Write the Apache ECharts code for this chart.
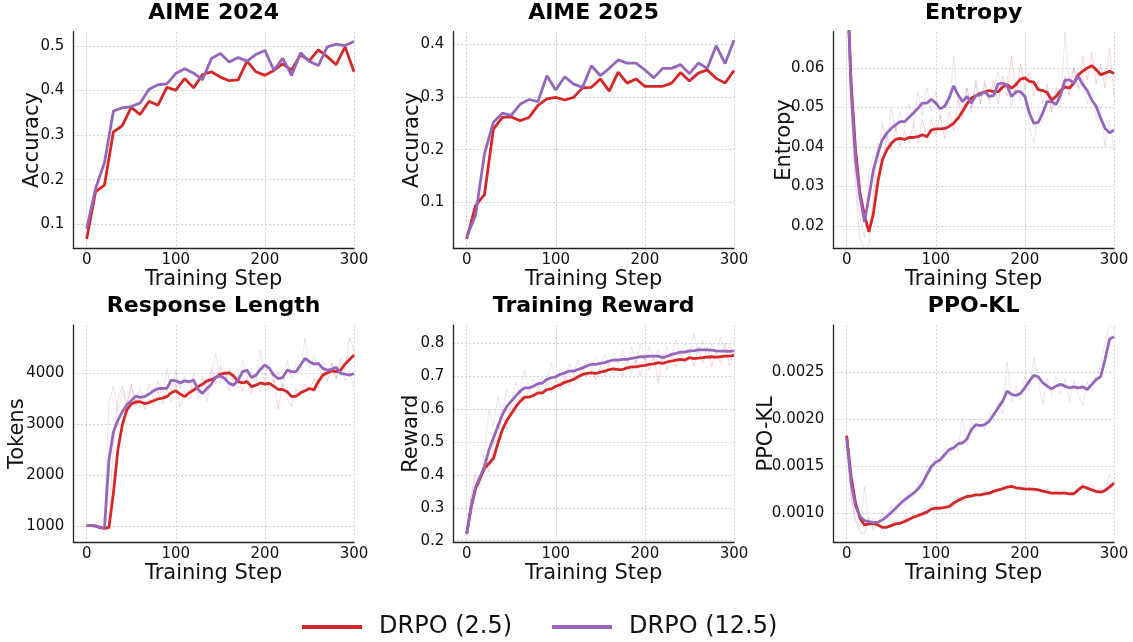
<!DOCTYPE html>
<html>
<head>
<meta charset="utf-8">
<script src="https://cdn.jsdelivr.net/npm/echarts@6/dist/echarts.min.js"></script>
<style>
  html, body { margin: 0; padding: 0; background: #fff; }
  #chart { width: 1133px; height: 642px; }
</style>
</head>
<body>
<div id="chart"></div>
<script>
// ---- data -------------------------------------------------------------
const STEPS_10 = [0,10,20,30,40,50,60,70,80,90,100,110,120,130,140,150,160,170,180,190,200,210,220,230,240,250,260,270,280,290,300];
const STEPS_5 = [0,5,10,15,20,25,30,35,40,45,50,55,60,65,70,75,80,85,90,95,100,105,110,115,120,125,130,135,140,145,150,155,160,165,170,175,180,185,190,195,200,205,210,215,220,225,230,235,240,245,250,255,260,265,270,275,280,285,290,295,300];
const X_TICKS = [0, 100, 200, 300];

const SERIES_NAMES = ['DRPO (2.5)', 'DRPO (12.5)'];

// AIME 2024 accuracy (every 10 steps)
const A24_RED = [0.067,0.173,0.188,0.307,0.321,0.362,0.346,0.376,0.367,0.407,0.401,0.427,0.406,0.436,0.442,0.430,0.422,0.424,0.466,0.442,0.434,0.445,0.460,0.446,0.480,0.467,0.491,0.476,0.458,0.498,0.442];
const A24_PUR = [0.090,0.180,0.238,0.354,0.361,0.364,0.372,0.403,0.413,0.415,0.438,0.449,0.439,0.424,0.472,0.483,0.464,0.474,0.466,0.481,0.490,0.446,0.472,0.434,0.485,0.465,0.456,0.498,0.504,0.501,0.510];
const A24_TICKS = [0.1, 0.2, 0.3, 0.4, 0.5];

// AIME 2025 accuracy (every 10 steps)
const A25_RED = [0.031,0.094,0.115,0.239,0.261,0.262,0.255,0.261,0.284,0.296,0.299,0.294,0.299,0.317,0.318,0.334,0.311,0.347,0.326,0.334,0.320,0.320,0.320,0.326,0.346,0.330,0.345,0.351,0.335,0.326,0.350];
const A25_PUR = [0.034,0.076,0.192,0.252,0.269,0.265,0.286,0.295,0.291,0.340,0.313,0.338,0.324,0.318,0.359,0.340,0.354,0.370,0.364,0.364,0.351,0.336,0.354,0.354,0.361,0.344,0.364,0.354,0.397,0.363,0.407];
const A25_TICKS = [0.1, 0.2, 0.3, 0.4];

// Entropy (every 5 steps): smoothed and raw
const ENT_RED = [0.085,0.0562,0.0392,0.0282,0.0227,0.0185,0.0231,0.0312,0.0367,0.0392,0.0409,
  0.0419,0.0422,0.0419,0.0424,0.0424,0.0426,0.0431,0.0426,0.0443,0.0446,
  0.0446,0.0447,0.0452,0.046,0.0473,0.049,0.0509,0.0524,0.053,0.0536,
  0.0539,0.0543,0.054,0.054,0.0552,0.0558,0.0549,0.0558,0.0572,0.0575,
  0.0566,0.0564,0.0545,0.0543,0.0538,0.0519,0.0528,0.0543,0.0552,0.0549,
  0.0562,0.0583,0.0592,0.060,0.0606,0.0596,0.0583,0.0587,0.0592,0.0586];
const ENT_PUR = [0.085,0.0545,0.0367,0.0274,0.021,0.0274,0.0342,0.0384,0.0418,0.0435,0.0447,
  0.0456,0.0464,0.0464,0.0475,0.0486,0.0498,0.0511,0.0511,0.0521,0.0511,
  0.0497,0.0503,0.0524,0.0555,0.0532,0.0515,0.0528,0.0511,0.053,0.0532,
  0.054,0.0528,0.053,0.056,0.0562,0.0555,0.0528,0.054,0.054,0.0528,
  0.0486,0.046,0.0462,0.0486,0.0515,0.0515,0.0507,0.0532,0.0569,0.057,
  0.0562,0.0579,0.0558,0.0543,0.0519,0.0503,0.0473,0.0447,0.0436,0.0443];
const ENT_RED_RAW = [0.090,0.048,0.030,0.017,0.014,0.015,0.028,0.041,0.035,0.043,0.039,
  0.045,0.040,0.044,0.041,0.046,0.041,0.047,0.042,0.047,0.043,
  0.048,0.042,0.049,0.044,0.052,0.047,0.055,0.050,0.057,0.051,
  0.056,0.052,0.057,0.051,0.058,0.053,0.063,0.053,0.061,0.055,
  0.059,0.053,0.057,0.051,0.056,0.049,0.055,0.052,0.058,0.053,
  0.060,0.055,0.063,0.057,0.064,0.056,0.061,0.055,0.065,0.053];
const ENT_PUR_RAW = [0.088,0.050,0.033,0.022,0.017,0.033,0.038,0.036,0.046,0.041,0.050,
  0.044,0.049,0.045,0.051,0.046,0.054,0.048,0.055,0.049,0.054,
  0.047,0.052,0.050,0.063,0.052,0.050,0.055,0.049,0.056,0.051,
  0.057,0.051,0.055,0.059,0.054,0.058,0.050,0.057,0.052,0.055,
  0.045,0.041,0.049,0.046,0.054,0.049,0.053,0.050,0.069,0.055,
  0.060,0.054,0.058,0.051,0.054,0.047,0.050,0.040,0.047,0.039];
const ENT_TICKS = [0.02, 0.03, 0.04, 0.05, 0.06];

// Response length in tokens (every 5 steps)
const LEN_RED = [1020,1013,1007,980,960,975,1650,2500,2990,3280,3400,
  3440,3445,3410,3430,3465,3500,3515,3545,3620,3660,
  3595,3545,3620,3675,3740,3790,3855,3880,3920,3985,
  4000,4010,3950,3840,3815,3840,3740,3770,3815,3790,
  3805,3750,3685,3685,3640,3545,3555,3620,3660,3705,
  3675,3840,3965,4015,4050,4035,4065,4185,4275,4360];
const LEN_PUR = [1020,1013,1005,970,965,2300,2850,3080,3250,3380,3465,
  3555,3530,3545,3595,3660,3700,3705,3710,3870,3855,
  3815,3855,3835,3870,3685,3610,3705,3790,3935,3950,
  3900,3805,3770,3870,4035,4065,3920,3965,4080,4165,
  4100,3965,3900,3920,4065,4035,4035,4165,4295,4230,
  4185,4195,4100,4065,4080,4120,4000,3985,3965,4000];
const LEN_RED_RAW = [1030,1000,1010,960,950,1000,2600,3500,3750,3400,3800,
  3350,3550,3300,3500,3350,3650,3400,3700,3450,3800,
  3350,3650,3500,3900,3600,3950,3700,4100,3800,4150,
  3850,4100,3800,3950,3650,3900,3600,3950,3650,3900,
  3700,3900,3300,3800,3500,3350,3700,3550,3800,3650,
  3900,3700,4100,3850,4200,3900,4300,4050,4700,4450];
const LEN_PUR_RAW = [1020,1010,990,960,1200,3400,3750,3250,3650,3350,3750,
  3450,3700,3400,3800,3500,3850,3550,4100,3650,4050,
  3700,3950,3600,4000,3500,3750,3450,4000,4400,3800,
  4050,3650,3950,3700,4250,3900,4100,3750,4450,3950,
  4200,3800,4050,3750,4250,3900,4200,4000,4700,4100,
  4350,4050,4250,3950,4200,3900,4150,3850,4050,3700];
const LEN_TICKS = [1000, 2000, 3000, 4000];

// Training reward (every 5 steps)
const REW_RED = [0.220,0.300,0.358,0.389,0.420,0.435,0.450,0.496,0.537,0.566,0.586,
  0.607,0.624,0.637,0.637,0.642,0.650,0.650,0.660,0.662,0.670,
  0.675,0.682,0.686,0.691,0.699,0.706,0.709,0.711,0.709,0.713,
  0.716,0.721,0.723,0.721,0.721,0.726,0.729,0.729,0.732,0.734,
  0.737,0.738,0.742,0.740,0.744,0.747,0.750,0.752,0.750,0.757,
  0.754,0.756,0.757,0.759,0.760,0.759,0.760,0.762,0.762,0.764];
const REW_PUR = [0.220,0.305,0.364,0.394,0.425,0.476,0.512,0.548,0.583,0.609,0.624,
  0.640,0.655,0.665,0.665,0.670,0.678,0.680,0.691,0.696,0.699,
  0.706,0.711,0.716,0.716,0.721,0.726,0.732,0.737,0.737,0.740,
  0.742,0.747,0.750,0.750,0.752,0.752,0.755,0.757,0.760,0.760,
  0.762,0.762,0.762,0.757,0.762,0.767,0.770,0.774,0.774,0.778,
  0.778,0.781,0.781,0.781,0.780,0.778,0.777,0.777,0.776,0.778];
const REW_RED_RAW = [0.22,0.33,0.40,0.37,0.45,0.41,0.49,0.52,0.58,0.54,0.61,
  0.59,0.65,0.62,0.66,0.63,0.67,0.64,0.68,0.65,0.69,
  0.66,0.70,0.67,0.71,0.69,0.73,0.70,0.72,0.69,0.73,
  0.70,0.74,0.71,0.73,0.70,0.75,0.71,0.75,0.70,0.76,
  0.72,0.76,0.68,0.77,0.72,0.77,0.73,0.78,0.74,0.78,
  0.73,0.79,0.74,0.79,0.73,0.78,0.74,0.80,0.73,0.78];
const REW_PUR_RAW = [0.22,0.34,0.41,0.38,0.48,0.60,0.55,0.64,0.59,0.66,0.62,
  0.68,0.65,0.72,0.66,0.69,0.67,0.70,0.68,0.74,0.69,
  0.72,0.70,0.74,0.71,0.75,0.72,0.75,0.73,0.76,0.73,
  0.77,0.74,0.77,0.74,0.78,0.75,0.79,0.74,0.80,0.75,
  0.79,0.75,0.78,0.74,0.79,0.76,0.81,0.76,0.80,0.77,
  0.83,0.77,0.81,0.76,0.80,0.77,0.82,0.76,0.80,0.77];
const REW_TICKS = [0.2, 0.3, 0.4, 0.5, 0.6, 0.7, 0.8];

// PPO-KL (every 5 steps)
const KL_RED = [0.001827,0.001392,0.001107,0.000947,0.000875,0.000886,0.000893,0.000875,0.00085,0.00085,0.000868,
  0.000886,0.000893,0.000911,0.000936,0.000957,0.000975,0.000993,0.001011,0.001043,0.001053,
  0.001053,0.001061,0.001071,0.001107,0.001135,0.00116,0.001178,0.001185,0.001196,0.001196,
  0.001207,0.001214,0.001232,0.001249,0.00126,0.001278,0.001285,0.001271,0.001264,0.00126,
  0.001257,0.001257,0.001249,0.001235,0.001224,0.001214,0.001214,0.001214,0.001214,0.001207,
  0.001207,0.001249,0.001285,0.001267,0.001249,0.001232,0.001224,0.001242,0.001278,0.001321];
const KL_PUR = [0.001802,0.001321,0.001071,0.000964,0.000922,0.000911,0.0009,0.000904,0.000929,0.000964,0.001007,
  0.001053,0.0011,0.001143,0.001178,0.001214,0.001257,0.001321,0.00141,0.001499,0.001542,
  0.00157,0.001624,0.001677,0.001695,0.001741,0.001748,0.001791,0.001891,0.001944,0.001934,
  0.001944,0.00198,0.002051,0.002122,0.002194,0.0023,0.002265,0.002254,0.002276,0.002336,
  0.002407,0.002468,0.002454,0.00239,0.002354,0.002325,0.002354,0.002372,0.002354,0.002336,
  0.002347,0.002336,0.002347,0.002318,0.002372,0.002425,0.002454,0.002639,0.002853,0.002881];
const KL_RED_RAW = [0.00184,0.00120,0.00092,0.00080,0.00078,0.00095,0.00082,0.00090,0.00083,0.00088,0.00085,
  0.00092,0.00088,0.00095,0.00091,0.00099,0.00095,0.00103,0.00098,0.00110,0.00102,
  0.00108,0.00104,0.00111,0.00108,0.00117,0.00112,0.00121,0.00116,0.00123,0.00117,
  0.00124,0.00118,0.00126,0.00122,0.00129,0.00124,0.00131,0.00125,0.00129,0.00123,
  0.00128,0.00122,0.00127,0.00121,0.00126,0.00119,0.00124,0.00118,0.00125,0.00119,
  0.00123,0.00127,0.00132,0.00125,0.00130,0.00121,0.00127,0.00122,0.00141,0.00133];
const KL_PUR_RAW = [0.00180,0.00115,0.00094,0.00085,0.00128,0.00086,0.00095,0.00088,0.00101,0.00094,0.00109,
  0.00100,0.00116,0.00108,0.00124,0.00115,0.00133,0.00125,0.00152,0.00143,0.00161,
  0.00152,0.00170,0.00162,0.00177,0.00167,0.00202,0.00172,0.00198,0.00188,0.00201,
  0.00189,0.00207,0.00198,0.00218,0.00205,0.00262,0.00219,0.00236,0.00220,0.00245,
  0.00231,0.00266,0.00238,0.00216,0.00244,0.00225,0.00246,0.00227,0.00243,0.00219,
  0.00241,0.00226,0.00214,0.00240,0.00229,0.00246,0.00258,0.00282,0.00302,0.00296];
const KL_TICKS = [0.0010, 0.0015, 0.0020, 0.0025];

// ---- panel setup -------------------------------------------------------
const RED = '#d62728';
const PURPLE = '#9467bd';
const FONT = "'DejaVu Sans', 'Liberation Sans', sans-serif";

const panels = [
  { title: 'AIME 2024', yName: 'Accuracy', left: 73.3, top: 31.7, height: 216.6, yMin: 0.046, yMax: 0.532, ticks: A24_TICKS, dec: 1, nameGap: 30,
    steps: STEPS_10, red: A24_RED, purple: A24_PUR },
  { title: 'AIME 2025', yName: 'Accuracy', left: 453.3, top: 31.7, height: 216.6, yMin: 0.0132, yMax: 0.4234, ticks: A25_TICKS, dec: 1, nameGap: 30,
    steps: STEPS_10, red: A25_RED, purple: A25_PUR },
  { title: 'Entropy', yName: 'Entropy', left: 833.3, top: 31.7, height: 216.6, yMin: 0.01433, yMax: 0.0692, ticks: ENT_TICKS, dec: 2, nameGap: 38,
    steps: STEPS_5, red: ENT_RED, purple: ENT_PUR, redRaw: ENT_RED_RAW, purpleRaw: ENT_PUR_RAW },
  { title: 'Response Length', yName: 'Tokens', left: 73.3, top: 325.2, height: 217.1, yMin: 686, yMax: 4947, ticks: LEN_TICKS, dec: 0, nameGap: 45,
    steps: STEPS_5, red: LEN_RED, purple: LEN_PUR, redRaw: LEN_RED_RAW, purpleRaw: LEN_PUR_RAW },
  { title: 'Training Reward', yName: 'Reward', left: 453.3, top: 325.2, height: 217.1, yMin: 0.195, yMax: 0.856, ticks: REW_TICKS, dec: 1, nameGap: 31,
    steps: STEPS_5, red: REW_RED, purple: REW_PUR, redRaw: REW_RED_RAW, purpleRaw: REW_PUR_RAW },
  { title: 'PPO-KL', yName: 'PPO-KL', left: 833.3, top: 325.2, height: 217.1, yMin: 0.00069, yMax: 0.003003, ticks: KL_TICKS, dec: 4, nameGap: 56,
    steps: STEPS_5, red: KL_RED, purple: KL_PUR, redRaw: KL_RED_RAW, purpleRaw: KL_PUR_RAW }
];
const PANEL_WIDTH = 280.7;

const pairs = (xs, ys) => xs.map((x, i) => [x, ys[i]]);

const grid = [], xAxis = [], yAxis = [], series = [], graphic = [];
const gridLine = { show: true, lineStyle: { color: '#c4c4c4', width: 0.8, type: [2, 2] } };

panels.forEach((p, i) => {
  grid.push({ left: p.left, top: p.top, width: PANEL_WIDTH, height: p.height, containLabel: false });
  xAxis.push({
    type: 'value', gridIndex: i, min: -15, max: 300,
    name: 'Training Step', nameLocation: 'middle', nameGap: 21, nameMoveOverlap: false,
    nameTextStyle: { fontFamily: FONT, fontSize: 21, color: '#111' },
    axisLine: { show: true, onZero: false, lineStyle: { color: '#222', width: 1.3 } },
    axisTick: { show: false, customValues: X_TICKS },
    axisLabel: { customValues: X_TICKS, fontFamily: FONT, fontSize: 15, color: '#111', margin: 4 },
    splitLine: gridLine
  });
  yAxis.push({
    type: 'value', gridIndex: i, min: p.yMin, max: p.yMax,
    name: p.yName, nameLocation: 'middle', nameGap: p.nameGap, nameMoveOverlap: false,
    nameTextStyle: { fontFamily: FONT, fontSize: 21, color: '#111' },
    axisLine: { show: true, onZero: false, lineStyle: { color: '#222', width: 1.3 } },
    axisTick: { show: false, customValues: p.ticks },
    axisLabel: { customValues: p.ticks, fontFamily: FONT, fontSize: 15, color: '#111', margin: 9,
      formatter: v => Number(v).toFixed(p.dec) },
    splitLine: gridLine
  });
  graphic.push({
    type: 'text', x: p.left + PANEL_WIDTH / 2, y: p.top - 18.5,
    style: { text: p.title, font: 'bold 22px ' + FONT, fill: '#000', align: 'center', verticalAlign: 'middle' }
  });

  if (p.redRaw) {
    series.push({ type: 'line', name: SERIES_NAMES[0] + ' raw', xAxisIndex: i, yAxisIndex: i, symbol: 'none',
      data: pairs(p.steps, p.redRaw), lineStyle: { color: RED, width: 1, opacity: 0.18 }, itemStyle: { color: RED },
      silent: true, z: 1 });
    series.push({ type: 'line', name: SERIES_NAMES[1] + ' raw', xAxisIndex: i, yAxisIndex: i, symbol: 'none',
      data: pairs(p.steps, p.purpleRaw), lineStyle: { color: PURPLE, width: 1, opacity: 0.18 }, itemStyle: { color: PURPLE },
      silent: true, z: 1 });
  }
  series.push({ type: 'line', name: SERIES_NAMES[0], xAxisIndex: i, yAxisIndex: i, symbol: 'none',
    data: pairs(p.steps, p.red), lineStyle: { color: RED, width: 2.8 }, itemStyle: { color: RED }, z: 2 });
  series.push({ type: 'line', name: SERIES_NAMES[1], xAxisIndex: i, yAxisIndex: i, symbol: 'none',
    data: pairs(p.steps, p.purple), lineStyle: { color: PURPLE, width: 2.8 }, itemStyle: { color: PURPLE }, z: 3 });
});

const chart = echarts.init(document.getElementById('chart'), null, { renderer: 'canvas' });
chart.setOption({
  animation: false,
  backgroundColor: '#fff',
  grid, xAxis, yAxis, series, graphic,
  legend: {
    data: SERIES_NAMES, left: 302, top: 615, padding: 0,
    icon: 'rect', itemWidth: 60, itemHeight: 4, itemGap: 40,
    textStyle: { fontFamily: FONT, fontSize: 24, color: '#111', padding: [0, 0, 0, 12] }
  }
});
</script>
</body>
</html>
